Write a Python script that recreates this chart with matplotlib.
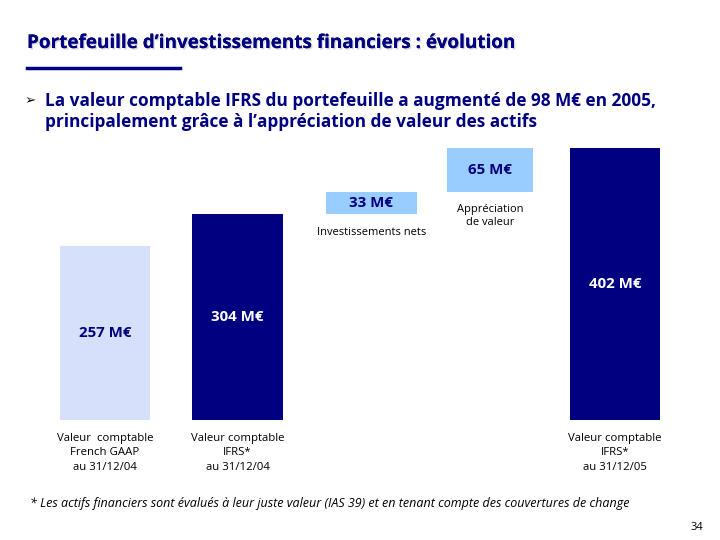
import matplotlib
matplotlib.use("Agg")
import matplotlib.pyplot as plt
import matplotlib.patheffects as pe

plt.rcParams['font.family'] = ['Open Sans', 'DejaVu Sans']

# ---- data ----
categories = ["Valeur  comptable\nFrench GAAP\nau 31/12/04",
              "Valeur comptable\nIFRS*\nau 31/12/04",
              "", "",
              "Valeur comptable\nIFRS*\nau 31/12/05"]
values = [257, 304, 33, 65, 402]
bases = [0, 0, 304, 337, 0]
value_labels = ["257 M€", "304 M€", "33 M€", "65 M€", "402 M€"]
step_labels = ["", "", "Investissements nets", "Appréciation\nde valeur", ""]

NAVY = "#000080"
colors = ["#D6E0FA", NAVY, "#99CCFF", "#99CCFF", NAVY]
text_colors = [NAVY, "white", NAVY, NAVY, "white"]

fig = plt.figure(figsize=(7.2, 5.4), dpi=100)

# title with shadow
fig.text(27/720, 1-43/540, "Portefeuille d’investissements financiers : évolution",
         fontsize=13.6, fontweight='bold', color=NAVY, va='center', ha='left',
         path_effects=[pe.withSimplePatchShadow(offset=(1, -1), shadow_rgbFace='#aaaaaa', alpha=0.5), pe.Normal()])
fig.add_artist(plt.Line2D([27/720, 180/720], [1-68/540, 1-68/540], color=NAVY, lw=2.5))

# bullet
fig.text(25/720, 1-101/540, "➢", fontsize=9.5, color='black', va='center', ha='left',
         family=['DejaVu Sans'])
fig.text(45/720, 1-101/540, "La valeur comptable IFRS du portefeuille a augmenté de 98 M€ en 2005,",
         fontsize=12.4, fontweight='bold', color=NAVY, va='center', ha='left')
fig.text(45/720, 1-122/540, "principalement grâce à l’appréciation de valeur des actifs",
         fontsize=12.4, fontweight='bold', color=NAVY, va='center', ha='left')

# chart axes: baseline at y=420px, top (402) at y=148px
ax = fig.add_axes([0, (540-420)/540, 1, (420-148)/540])
ax.set_ylim(0, 402)
xmin = -105/127.5
ax.set_xlim(xmin, xmin + 720/127.5)
ax.axis('off')

x = [0, 1.04, 2.09, 3.02, 4]   # bar centre positions (layout)
widths = [0.71, 0.71, 0.71, 0.67, 0.71]
bars = ax.bar(x, values, bottom=bases, width=widths, color=colors, edgecolor='none')

for i, (b, v) in enumerate(zip(bases, values)):
    ax.text(x[i], b + v/2, value_labels[i], ha='center', va='center',
            fontsize=10.8, fontweight='bold', color=text_colors[i])
    if step_labels[i]:
        ax.annotate(step_labels[i], (x[i], b), xytext=(0, -9), textcoords='offset points',
                    ha='center', va='top', fontsize=8, color='black', linespacing=1.2)
    if categories[i]:
        ax.annotate(categories[i], (x[i], 0), xytext=(0, -9), textcoords='offset points',
                    ha='center', va='top', fontsize=8.2, color='black', linespacing=1.45,
                    annotation_clip=False)

fig.text(30/720, 1-503/540,
         "* Les actifs financiers sont évalués à leur juste valeur (IAS 39) et en tenant compte des couvertures de change",
         fontsize=9, style='italic', color='black', va='center', ha='left')
fig.text(703/720, 1-527/540, "34", fontsize=8, color='black', va='center', ha='right')

fig.savefig("out.png", dpi=100)
